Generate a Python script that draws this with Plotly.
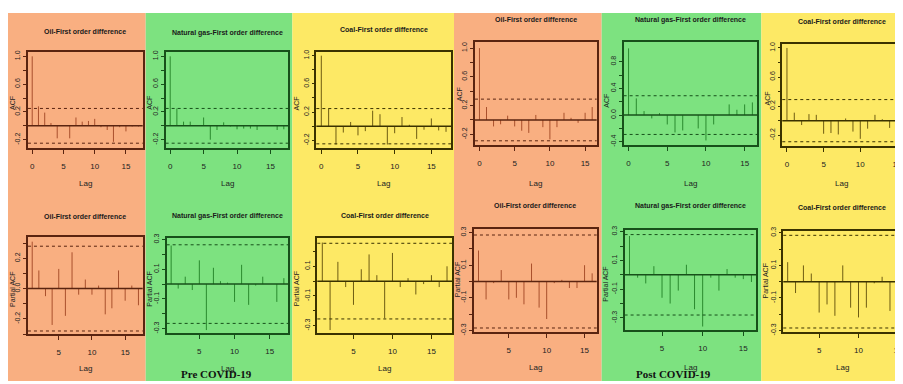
import plotly.graph_objects as go

# The page has an 8px body margin; the figure is sized to fill the rest of the 903x384 window.
OFF = 8
W, H = 903 - OFF, 384 - OFF


def PX(x):
    return (x - OFF) / W


def PY(y):
    return 1 - (y - OFF) / H


# ---------------- data ----------------
lags_acf_pre = list(range(0, 18))
lags_acf_post = list(range(0, 17))
lags_acf_post_coal = list(range(0, 16))
lags_pacf_pre = list(range(1, 18))
lags_pacf_post = list(range(1, 17))
lags_pacf_post_coal = list(range(1, 15))

acf_oil_pre = [1.0, 0.28, 0.19, 0.04, -0.18, 0.0, -0.18, 0.12, 0.06, 0.07, 0.10, -0.02, -0.06, -0.23, -0.02, -0.08, -0.01, -0.01]
acf_gas_pre = [1.0, 0.25, 0.06, 0.06, 0.0, 0.12, -0.20, -0.06, 0.05, -0.01, -0.05, -0.04, -0.04, -0.06, 0.0, 0.0, -0.06, -0.05]
acf_coal_pre = [1.0, 0.25, -0.26, -0.09, 0.06, -0.13, -0.07, 0.22, 0.17, -0.26, -0.10, 0.13, 0.02, -0.18, -0.05, 0.11, -0.06, -0.08]
acf_oil_post = [1.0, 0.18, -0.09, -0.06, 0.06, -0.09, -0.15, -0.18, 0.07, -0.10, -0.27, -0.10, 0.10, 0.03, -0.04, 0.10, 0.18]
acf_gas_post = [1.0, 0.25, 0.06, -0.05, 0.03, -0.14, -0.26, -0.23, 0.0, -0.20, -0.38, -0.14, 0.0, 0.16, 0.08, 0.16, 0.19]
acf_coal_post = [1.0, 0.11, -0.06, 0.09, 0.08, -0.18, -0.17, -0.19, 0.03, -0.15, -0.25, -0.11, 0.08, 0.02, -0.10, 0.08]

pacf_oil_pre = [0.31, 0.12, -0.05, -0.24, 0.13, -0.18, 0.24, -0.04, 0.06, -0.04, 0.02, -0.17, -0.13, 0.12, -0.08, 0.02, -0.11]
pacf_gas_pre = [0.26, -0.03, 0.05, -0.04, 0.16, -0.31, 0.11, 0.02, 0.01, -0.12, 0.13, -0.14, -0.01, 0.05, 0.0, -0.12, 0.04]
pacf_coal_pre = [0.26, -0.33, 0.13, -0.04, -0.16, 0.08, 0.18, 0.04, -0.25, 0.19, -0.04, 0.02, -0.09, -0.02, 0.04, -0.04, 0.10]
pacf_oil_post = [0.19, -0.11, -0.01, 0.07, -0.11, -0.10, -0.14, 0.11, -0.16, -0.23, -0.01, 0.01, -0.04, -0.04, 0.10, 0.05]
pacf_gas_post = [0.27, -0.02, -0.06, 0.06, -0.16, -0.20, -0.11, 0.07, -0.24, -0.36, -0.02, -0.11, 0.04, -0.02, -0.03, -0.05]
pacf_coal_post = [0.12, -0.07, 0.10, 0.05, -0.19, -0.14, -0.21, 0.10, -0.16, -0.22, -0.16, -0.01, 0.03, -0.18]

ci_acf = [0.25, 0.25, 0.25, 0.29, 0.29, 0.29]
ci_pacf = [0.28, 0.265, 0.255, 0.285, 0.28, 0.285]

titles = ["Oil-First order difference", "Natural gas-First order difference", "Coal-First order difference"] * 2
period_labels = ["Pre COVID-19", "Post COVID-19"]

acf_ticks = [-0.2, 0.0, 0.2, 0.4, 0.6, 0.8, 1.0]
acf_ticktext = ["-0.2", "", "0.2", "", "0.6", "", "1.0"]
acf_ticks_b = [-0.4, -0.2, 0.0, 0.2, 0.4, 0.6, 0.8]
acf_ticktext_b = ["-0.4", "", "0.0", "", "0.4", "", "0.8"]
pacf_ticks = [-0.3, -0.2, -0.1, 0.0, 0.1, 0.2, 0.3]
pacf_ticktext_a = ["", "-0.2", "", "0.0", "", "0.2", ""]
pacf_ticktext_b = ["-0.3", "", "-0.1", "", "0.1", "", "0.3"]

# ---------------- styles ----------------
styles = {
    "oil": dict(bg="#F9AF81", bar="#A9502C", frame="#5A2410"),
    "gas": dict(bg="#7DE280", bar="#2A8A2E", frame="#17501A"),
    "coal": dict(bg="#FDE965", bar="#6E5C12", frame="#3A3200"),
}
kinds = ["oil", "gas", "coal", "oil", "gas", "coal"]
col_bounds = [(8, 146), (146, 293), (293, 455), (455, 603), (603, 763), (763, 903)]

FONT = "Liberation Sans Narrow, Arial Narrow, Liberation Sans, Arial, sans-serif"

# frame = (left, right, top, bottom) in window pixels
panels = [
    # row 1: ACF
    dict(frame=(28, 143, 48, 146), xr=[-0.68, 17.68], yr=[-0.32, 1.06], lags=lags_acf_pre, vals=acf_oil_pre, ci=ci_acf[0],
         yt=acf_ticks, ytt=acf_ticktext, xt=[0, 5, 10, 15], ty=27, ly=182, yl=(12, 100), ylab="ACF"),
    dict(frame=(166, 289, 48, 146), xr=[-0.68, 17.68], yr=[-0.32, 1.06], lags=lags_acf_pre, vals=acf_gas_pre, ci=ci_acf[1],
         yt=acf_ticks, ytt=acf_ticktext, xt=[0, 5, 10, 15], ty=28, ly=182, yl=(149, 100), ylab="ACF"),
    dict(frame=(317, 452, 48, 146), xr=[-0.68, 17.68], yr=[-0.31, 1.05], lags=lags_acf_pre, vals=acf_coal_pre, ci=ci_acf[2],
         yt=acf_ticks, ytt=acf_ticktext, xt=[0, 5, 10, 15], ty=25, ly=182, yl=(297, 100), ylab="ACF"),
    dict(frame=(476, 598, 38, 143), xr=[-0.64, 16.64], yr=[-0.35, 1.08], lags=lags_acf_post, vals=acf_oil_post, ci=ci_acf[3],
         yt=acf_ticks, ytt=acf_ticktext, xt=[0, 5, 10, 15], ty=15, ly=182, yl=(460, 91), ylab="ACF"),
    dict(frame=(625, 759, 38, 143), xr=[-0.64, 16.64], yr=[-0.45, 1.09], lags=lags_acf_post, vals=acf_gas_post, ci=ci_acf[4],
         yt=acf_ticks_b, ytt=acf_ticktext_b, xt=[0, 5, 10, 15], ty=15, ly=182, yl=(607, 98), ylab="ACF"),
    dict(frame=(784, 903, 40, 144), xr=[-0.64, 15.55], yr=[-0.35, 1.05], lags=lags_acf_post_coal, vals=acf_coal_post, ci=ci_acf[5],
         yt=acf_ticks, ytt=acf_ticktext, xt=[0, 5, 10, 15], ty=17, ly=182, yl=(769, 95), ylab="ACF"),
    # row 2: PACF
    dict(frame=(28, 143, 237, 336), xr=[0.36, 17.64], yr=[-0.30, 0.34], lags=lags_pacf_pre, vals=pacf_oil_pre, ci=ci_pacf[0],
         yt=pacf_ticks, ytt=pacf_ticktext_a, xt=[5, 10, 15], ty=216, ly=371, yl=(12, 290), ylab="Partial ACF"),
    dict(frame=(167, 289, 238, 335), xr=[0.36, 17.64], yr=[-0.33, 0.31], lags=lags_pacf_pre, vals=pacf_gas_pre, ci=ci_pacf[1],
         yt=pacf_ticks, ytt=pacf_ticktext_b, xt=[5, 10, 15], ty=215, ly=371, yl=(149, 290), ylab="Partial ACF"),
    dict(frame=(318, 453, 238, 335), xr=[0.36, 17.64], yr=[-0.35, 0.29], lags=lags_pacf_pre, vals=pacf_coal_pre, ci=ci_pacf[2],
         yt=pacf_ticks[:-1], ytt=["-0.3", "", "-0.1", "", "0.1", ""], xt=[5, 10, 15], ty=215, ly=371, yl=(297, 290), ylab="Partial ACF"),
    dict(frame=(475, 598, 229, 334), xr=[0.4, 16.6], yr=[-0.31, 0.32], lags=lags_pacf_post, vals=pacf_oil_post, ci=ci_pacf[3],
         yt=pacf_ticks, ytt=pacf_ticktext_b, xt=[5, 10, 15], ty=205, ly=370, yl=(458, 280), ylab="Partial ACF"),
    dict(frame=(626, 758, 230, 332), xr=[0.4, 16.6], yr=[-0.385, 0.31], lags=lags_pacf_post, vals=pacf_gas_post, ci=ci_pacf[4],
         yt=pacf_ticks, ytt=pacf_ticktext_b, xt=[5, 10, 15], ty=205, ly=370, yl=(606, 285), ylab="Partial ACF"),
    dict(frame=(785, 903, 231, 334), xr=[0.44, 15.4], yr=[-0.31, 0.31], lags=lags_pacf_post_coal, vals=pacf_coal_post, ci=ci_pacf[5],
         yt=pacf_ticks, ytt=pacf_ticktext_b, xt=[5, 10, 15], ty=207, ly=370, yl=(767, 282), ylab="Partial ACF"),
]

fig = go.Figure()
shapes = []
annotations = []

# column backgrounds
for (x0, x1), k in zip(col_bounds, kinds):
    shapes.append(dict(type="rect", xref="paper", yref="paper", x0=PX(x0), x1=PX(x1), y0=0, y1=1,
                       fillcolor=styles[k]["bg"], line=dict(width=0), layer="below"))

layout_axes = {}
for i, p in enumerate(panels):
    n = i + 1
    sfx = "" if n == 1 else str(n)
    st = styles[kinds[i % 6]]
    fx0, fx1, fy0, fy1 = p["frame"]
    xs, ys = [], []
    for lag, v in zip(p["lags"], p["vals"]):
        xs += [lag, lag, None]
        ys += [0, v, None]
    fig.add_trace(go.Scatter(x=xs, y=ys, mode="lines", line=dict(color=st["bar"], width=1),
                             xaxis=f"x{sfx}", yaxis=f"y{sfx}", showlegend=False, hoverinfo="skip"))
    layout_axes[f"xaxis{sfx}"] = dict(domain=[PX(fx0), min(PX(fx1), 1)], range=p["xr"], anchor=f"y{sfx}",
                                      showline=True, mirror=True,
                                      linecolor=st["frame"], linewidth=1.5, ticks="outside", ticklen=4, tickwidth=1,
                                      tickcolor=st["frame"], tickvals=p["xt"], showgrid=False, zeroline=False,
                                      ticklabelstandoff=6,
                                      tickfont=dict(family=FONT, size=8, color="#222222"), fixedrange=True)
    layout_axes[f"yaxis{sfx}"] = dict(domain=[PY(fy1), PY(fy0)], range=p["yr"], anchor=f"x{sfx}",
                                      showline=True, mirror=True,
                                      linecolor=st["frame"], linewidth=1.5, ticks="outside", ticklen=3, tickwidth=1,
                                      tickcolor=st["frame"], tickvals=p["yt"], ticktext=p["ytt"], tickangle=-90,
                                      showgrid=False, zeroline=False,
                                      tickfont=dict(family=FONT, size=7, color="#222222"), fixedrange=True)
    # zero line and confidence bounds
    shapes.append(dict(type="line", xref=f"x{sfx} domain", yref=f"y{sfx}", x0=0, x1=1, y0=0, y1=0,
                       line=dict(color=st["frame"], width=1.5)))
    for c in (p["ci"], -p["ci"]):
        shapes.append(dict(type="line", xref=f"x{sfx} domain", yref=f"y{sfx}", x0=0, x1=1, y0=c, y1=c,
                           line=dict(color=st["frame"], width=1, dash="dot")))
    cx = PX((fx0 + fx1) / 2)
    annotations.append(dict(text=f"<b>{titles[i % 6]}</b>", x=cx, y=PY(p["ty"]), xref="paper", yref="paper",
                            showarrow=False, xanchor="center", yanchor="middle",
                            font=dict(family=FONT, size=7, color="#1a1a1a")))
    annotations.append(dict(text="Lag", x=cx, y=PY(p["ly"]), xref="paper", yref="paper",
                            showarrow=False, xanchor="center", yanchor="middle",
                            font=dict(family=FONT, size=8, color="#222222")))
    annotations.append(dict(text=p["ylab"], x=PX(p["yl"][0]), y=PY(p["yl"][1]), xref="paper", yref="paper",
                            showarrow=False, xanchor="center", yanchor="middle", textangle=-90,
                            font=dict(family=FONT, size=7, color="#222222")))

for lbl, xc in zip(period_labels, [217, 675]):
    annotations.append(dict(text=f"<b>{lbl}</b>", x=PX(xc), y=PY(377), xref="paper", yref="paper",
                            showarrow=False, xanchor="center", yanchor="middle",
                            font=dict(family="Liberation Serif, Times New Roman, serif", size=11, color="#111111")))

fig.update_layout(width=W, height=H, margin=dict(l=0, r=0, t=0, b=0), paper_bgcolor="white",
                  plot_bgcolor="rgba(0,0,0,0)", shapes=shapes, annotations=annotations, **layout_axes)

fig.write_html("out.html")
